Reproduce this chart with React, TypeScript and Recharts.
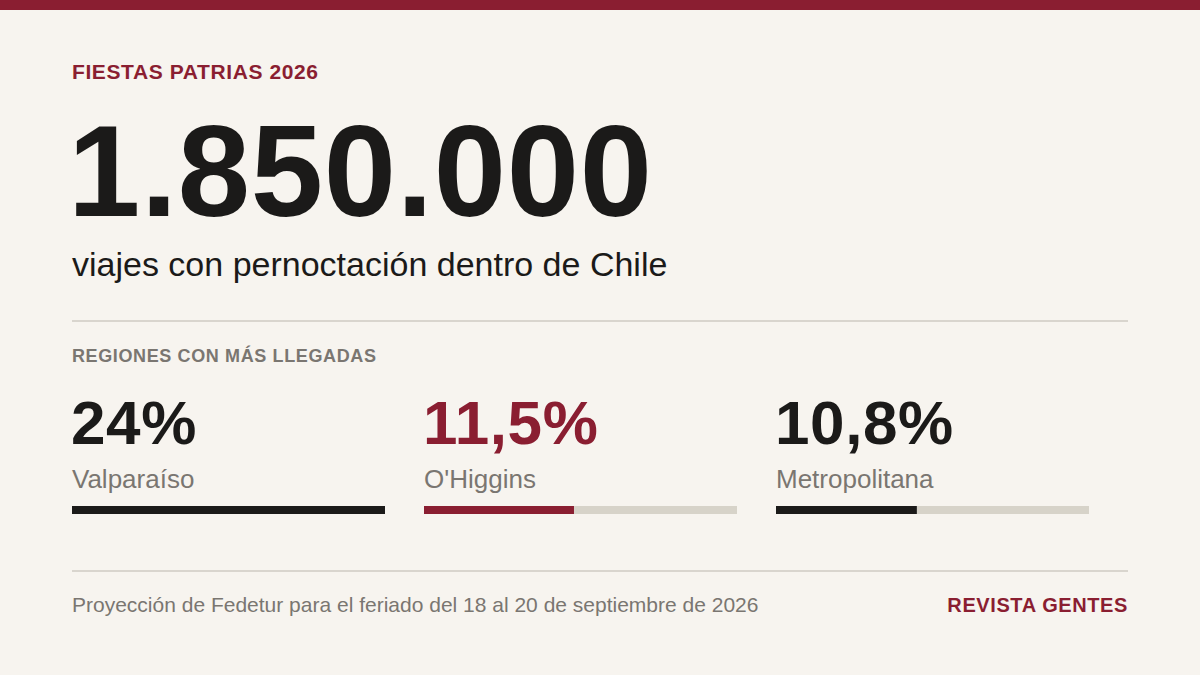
import { BarChart, Bar, XAxis, YAxis } from 'recharts'

const kicker = 'FIESTAS PATRIAS 2026'
const totalTrips = 1850000
const totalLabel = 'viajes con pernoctación dentro de Chile'
const sectionTitle = 'REGIONES CON MÁS LLEGADAS'
const regions = ['Valparaíso', "O'Higgins", 'Metropolitana']
const shares = [24, 11.5, 10.8]
const source = 'Proyección de Fedetur para el feriado del 18 al 20 de septiembre de 2026'
const brand = 'REVISTA GENTES'

const MAROON = '#8a1e31'
const INK = '#1b1a19'
const GREY = '#7a7671'
const TRACK = '#d7d3c9'
const RULE = '#d9d5ce'
const BG = '#f7f4ef'
const FONT = '"Liberation Sans", Arial, sans-serif'

const fmtThousands = (n: number) => String(n).replace(/\B(?=(\d{3})+(?!\d))/g, '.')
const fmtPct = (n: number) => String(n).replace('.', ',') + '%'

// top of a line box (line-height 1) for a given baseline
const topFor = (baseline: number, size: number) => baseline - size * 0.8465

const maxShare = Math.max(...shares)

function ShareBar({ name, value, color }: { name: string; value: number; color: string }) {
  return (
    <BarChart
      width={313}
      height={9}
      data={[{ name, value }]}
      layout="vertical"
      margin={{ top: 0, right: 0, bottom: 0, left: 0 }}
      barCategoryGap={0}
    >
      <XAxis type="number" domain={[0, maxShare]} hide />
      <YAxis type="category" dataKey="name" hide />
      <Bar dataKey="value" fill={color} background={{ fill: TRACK }} barSize={9} isAnimationActive={false} />
    </BarChart>
  )
}

export default function App() {
  const text = (baseline: number, size: number, extra: React.CSSProperties = {}) => ({
    position: 'absolute' as const,
    top: topFor(baseline, size),
    fontSize: size,
    lineHeight: 1,
    whiteSpace: 'nowrap' as const,
    ...extra,
  })

  return (
    <div
      style={{
        position: 'absolute',
        left: 0,
        top: 0,
        width: 1200,
        height: 675,
        background: BG,
        fontFamily: FONT,
        overflow: 'hidden',
      }}
    >
      <div style={{ position: 'absolute', left: 0, top: 0, width: 1200, height: 10, background: MAROON }} />

      <div style={text(79, 21, { left: 72, color: MAROON, fontWeight: 700, letterSpacing: 0.6 })}>{kicker}</div>
      <div style={text(216, 130, { left: 68, color: INK, fontWeight: 700, letterSpacing: 0.7 })}>
        {fmtThousands(totalTrips)}
      </div>
      <div style={text(276, 34, { left: 72, color: INK })}>{totalLabel}</div>

      <div style={{ position: 'absolute', left: 72, top: 320, width: 1056, height: 2, background: RULE }} />

      <div style={text(362, 18, { left: 72, color: GREY, fontWeight: 700, letterSpacing: 0.62 })}>{sectionTitle}</div>

      {regions.map((r, i) => {
        const left = 72 + i * 352
        const color = i === 1 ? MAROON : INK
        return (
          <div key={r}>
            <div style={text(444, 62, { left: left - 1, color, fontWeight: 700, letterSpacing: 0.6 })}>
              {fmtPct(shares[i])}
            </div>
            <div style={text(488, 26, { left, color: GREY })}>{r}</div>
            <div style={{ position: 'absolute', left, top: 506 }}>
              <ShareBar name={r} value={shares[i]} color={color} />
            </div>
          </div>
        )
      })}

      <div style={{ position: 'absolute', left: 72, top: 570, width: 1056, height: 2, background: RULE }} />

      <div style={text(612, 21, { left: 72, color: GREY })}>{source}</div>
      <div style={text(612, 20, { right: 72, color: MAROON, fontWeight: 700, letterSpacing: 0.6 })}>{brand}</div>
    </div>
  )
}
